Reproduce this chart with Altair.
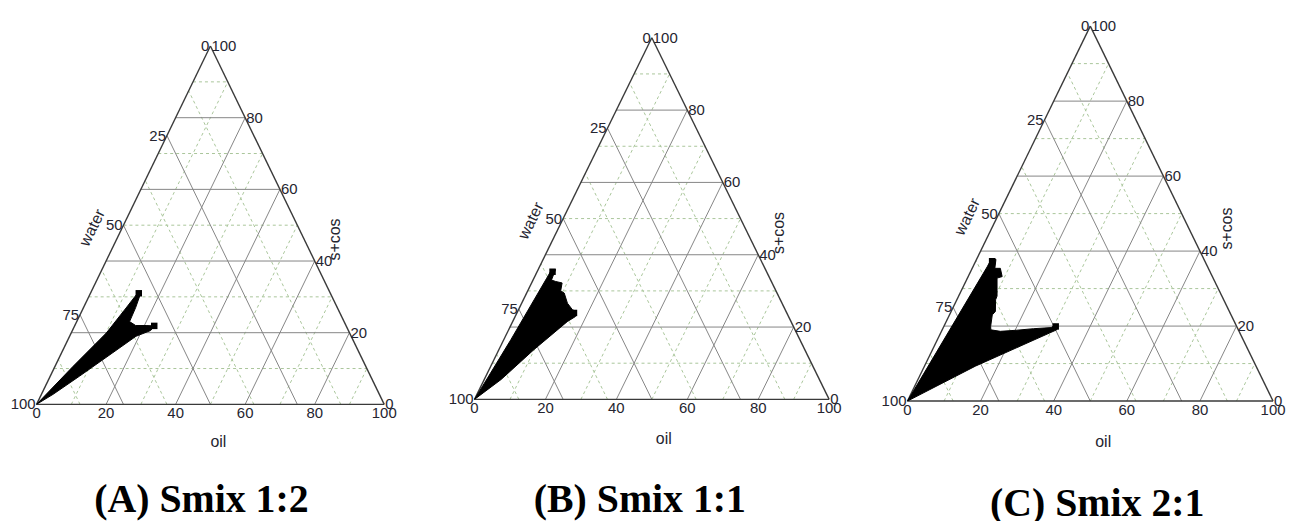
import altair as alt
import pandas as pd

# ---------------- data ----------------
OIL_TICKS = [0, 20, 40, 60, 80, 100]
WATER_TICKS = [0, 25, 50, 75, 100]
SCOS_TICKS = [0, 20, 40, 60, 80, 100]

MAJOR_SCOS = [20, 40, 60, 80]
MAJOR_OIL = [20, 40, 60, 80]
MAJOR_WATER = [25, 50, 75]
MINOR_SCOS = [10, 30, 50, 70, 90]
MINOR_OIL = [10, 30, 50, 70, 90]
MINOR_WATER = [12.5, 37.5, 62.5, 87.5]

PANEL_TITLES = ["(A) Smix 1:2", "(B) Smix 1:1", "(C) Smix 2:1"]
AXIS_TITLES = {"oil": "oil", "water": "water", "scos": "s+cos"}

# microemulsion region boundaries (oil %, s+cos %), water = 100 - oil - s+cos
A_OIL = [0, 5.2, 10.1, 12.3, 13.4, 14.5, 15.0, 15.2, 17.5, 20.5, 22.9, 22.5, 19.1, 14.7, 8.45, 3.35, 0]
A_SCOS = [0, 10.6, 19.9, 26.9, 30.6, 30.6, 27.0, 23.1, 22.0, 22.0, 21.9, 20.6, 19.0, 14.4, 7.9, 2.8, 0]
A_TIPS_OIL = [13.9, 22.9]
A_TIPS_SCOS = [31.0, 21.9]

B_OIL = [0, 2.0, 3.6, 3.8, 4.9, 5.2, 6.6, 8.6, 9.3, 10.6, 12.9, 15.2, 16.5, 17.0, 15.4, 9.9, 4.75, 0]
B_SCOS = [0, 16.5, 33.5, 35.8, 35.9, 33.0, 32.6, 32.2, 30.0, 29.4, 26.6, 24.8, 24.3, 22.9, 21.5, 13.8, 5.5, 0]
B_TIPS_OIL = [4.35, 16.1]
B_TIPS_SCOS = [35.3, 23.9]

C_OIL = [0, 3.9, 4.0, 5.3, 6.2, 7.7, 9.3, 8.1, 10.5, 10.6, 12.1, 11.7, 12.8, 13.3, 16.1, 20.5, 24.8, 29.5, 30.4, 31.2, 31.3, 13.9, 0]
C_SCOS = [0, 35.8, 38.0, 37.8, 35.4, 35.4, 33.2, 32.8, 28.0, 27.0, 23.9, 23.0, 19.9, 19.0, 18.6, 18.9, 19.3, 19.6, 20.4, 19.6, 19.0, 9.3, 0]
C_TIPS_OIL = [4.5, 30.6]
C_TIPS_SCOS = [37.3, 19.9]

REGIONS = [(A_OIL, A_SCOS, A_TIPS_OIL, A_TIPS_SCOS),
           (B_OIL, B_SCOS, B_TIPS_OIL, B_TIPS_SCOS),
           (C_OIL, C_SCOS, C_TIPS_OIL, C_TIPS_SCOS)]

# ---------------- layout (page pixels) ----------------
TOP = 8
HEIGHT = 505
GEOM = [
    dict(left=8, width=432, bl_x=36.7, br_x=386.0, bl_y=405.0, top_y=45.0,
         water_dy=-27, scos_dy=31, oil_dx=8, oil_dy=38, title_dx=-9, title_dy=108),
    dict(left=440, width=434, bl_x=476.7, br_x=833.0, bl_y=400.0, top_y=36.7,
         water_dy=-28, scos_dy=32, oil_dx=12, oil_dy=40, title_dx=-12, title_dy=113),
    dict(left=874, width=412, bl_x=911.7, br_x=1279.0, bl_y=401.7, top_y=25.0,
         water_dy=-27, scos_dy=38, oil_dx=13, oil_dy=41, title_dx=7, title_dy=115),
]

LABEL_FONT = "Liberation Sans"
TITLE_FONT = "Liberation Serif"
TXT = "#252530"


def cart(oil, s):
    return oil + s / 2.0, s


def seg(o1, s1, o2, s2, kind):
    x1, y1 = cart(o1, s1)
    x2, y2 = cart(o2, s2)
    return dict(x=x1, y=y1, x2=x2, y2=y2, kind=kind)


grid_rows = []
for v in MINOR_SCOS:
    grid_rows.append(seg(0, v, 100 - v, v, "minor"))
for v in MINOR_OIL:
    grid_rows.append(seg(v, 0, v, 100 - v, "minor"))
for w in MINOR_WATER:
    grid_rows.append(seg(100 - w, 0, 0, 100 - w, "minor"))
for v in MAJOR_SCOS:
    grid_rows.append(seg(0, v, 100 - v, v, "major"))
for v in MAJOR_OIL:
    grid_rows.append(seg(v, 0, v, 100 - v, "major"))
for w in MAJOR_WATER:
    grid_rows.append(seg(100 - w, 0, 0, 100 - w, "major"))
grid_df = pd.DataFrame(grid_rows)

edge_df = pd.DataFrame([seg(0, 0, 100, 0, "edge"), seg(0, 0, 0, 100, "edge"),
                        seg(100, 0, 0, 100, "edge")])

oil_lab = pd.DataFrame([dict(x=cart(v, 0)[0], y=0, t=str(v)) for v in OIL_TICKS])
water_lab = pd.DataFrame([dict(x=cart(0, 100 - w)[0], y=100 - w, t=str(w)) for w in WATER_TICKS])
scos_lab = pd.DataFrame([dict(x=cart(100 - s, s)[0], y=s, t=str(s)) for s in SCOS_TICKS])


def panel(i):
    g = GEOM[i]
    kx = (g["br_x"] - g["bl_x"]) / 100.0
    ky = (g["bl_y"] - g["top_y"]) / 100.0
    xd0 = -(g["bl_x"] - g["left"]) / kx
    xd1 = xd0 + g["width"] / kx
    yd1 = 100 + (g["top_y"] - TOP) / ky
    yd0 = yd1 - HEIGHT / ky
    xs = alt.Scale(domain=[xd0, xd1], nice=False, zero=False)
    ys = alt.Scale(domain=[yd0, yd1], nice=False, zero=False)

    def X(f="x"):
        return alt.X(f, type="quantitative", scale=xs, axis=None)

    def Y(f="y"):
        return alt.Y(f, type="quantitative", scale=ys, axis=None)

    minor = alt.Chart(grid_df[grid_df.kind == "minor"]).mark_rule(
        color="#a9c69a", strokeWidth=1, strokeDash=[3, 3]
    ).encode(x=X(), y=Y(), x2="x2", y2="y2")
    major = alt.Chart(grid_df[grid_df.kind == "major"]).mark_rule(
        color="#858585", strokeWidth=1
    ).encode(x=X(), y=Y(), x2="x2", y2="y2")
    edges = alt.Chart(edge_df).mark_rule(color="#3a3a3a", strokeWidth=1.4).encode(
        x=X(), y=Y(), x2="x2", y2="y2")

    oils, scos, toil, tscos = REGIONS[i]
    reg = pd.DataFrame({"i": list(range(len(oils))),
                        "x": [o + s / 2.0 for o, s in zip(oils, scos)],
                        "y": scos})
    region = alt.Chart(reg).mark_line(color="black", fill="black", strokeWidth=1,
                                      strokeJoin="round").encode(
        x=X(), y=Y(), order="i:Q")
    tips = pd.DataFrame({"x": [o + s / 2.0 for o, s in zip(toil, tscos)], "y": tscos})
    tip_marks = alt.Chart(tips).mark_square(size=42, color="black", opacity=1).encode(
        x=X(), y=Y())

    t_oil = alt.Chart(oil_lab).mark_text(align="center", baseline="top", dy=2,
                                         font=LABEL_FONT, fontSize=15, color=TXT).encode(
        x=X(), y=Y(), text="t:N")
    t_water = alt.Chart(water_lab).mark_text(align="right", baseline="middle", dx=-1,
                                             font=LABEL_FONT, fontSize=15, color=TXT).encode(
        x=X(), y=Y(), text="t:N")
    t_scos = alt.Chart(scos_lab).mark_text(align="left", baseline="middle", dx=1,
                                           font=LABEL_FONT, fontSize=15, color=TXT).encode(
        x=X(), y=Y(), text="t:N")

    wx, wy = cart(0, 46)
    ttl_water = alt.Chart(pd.DataFrame([dict(x=wx, y=wy, t=AXIS_TITLES["water"])])).mark_text(
        align="center", baseline="middle", angle=296, dy=g["water_dy"],
        font=LABEL_FONT, fontSize=16, color=TXT).encode(x=X(), y=Y(), text="t:N")
    sx, sy = cart(54, 46)
    ttl_scos = alt.Chart(pd.DataFrame([dict(x=sx, y=sy, t=AXIS_TITLES["scos"])])).mark_text(
        align="center", baseline="middle", angle=270, dy=g["scos_dy"],
        font=LABEL_FONT, fontSize=16, color=TXT).encode(x=X(), y=Y(), text="t:N")
    ox, oy = cart(50, 0)
    ttl_oil = alt.Chart(pd.DataFrame([dict(x=ox, y=oy, t=AXIS_TITLES["oil"])])).mark_text(
        align="center", baseline="middle", dx=g["oil_dx"], dy=g["oil_dy"],
        font=LABEL_FONT, fontSize=16, color=TXT).encode(x=X(), y=Y(), text="t:N")
    ttl_panel = alt.Chart(pd.DataFrame([dict(x=ox, y=oy, t=PANEL_TITLES[i])])).mark_text(
        align="center", baseline="alphabetic", dx=g["title_dx"], dy=g["title_dy"],
        font=TITLE_FONT, fontSize=40, fontWeight="bold", color="black").encode(
        x=X(), y=Y(), text="t:N")

    return alt.layer(minor, major, edges, region, tip_marks, t_oil, t_water, t_scos,
                     ttl_water, ttl_scos, ttl_oil, ttl_panel).properties(
        width=g["width"], height=HEIGHT)


chart = alt.hconcat(panel(0), panel(1), panel(2), spacing=0).properties(
    bounds="flush", padding=0
).configure_view(stroke=None)

chart.save("out.html", embed_options={"renderer": "svg", "actions": False})
